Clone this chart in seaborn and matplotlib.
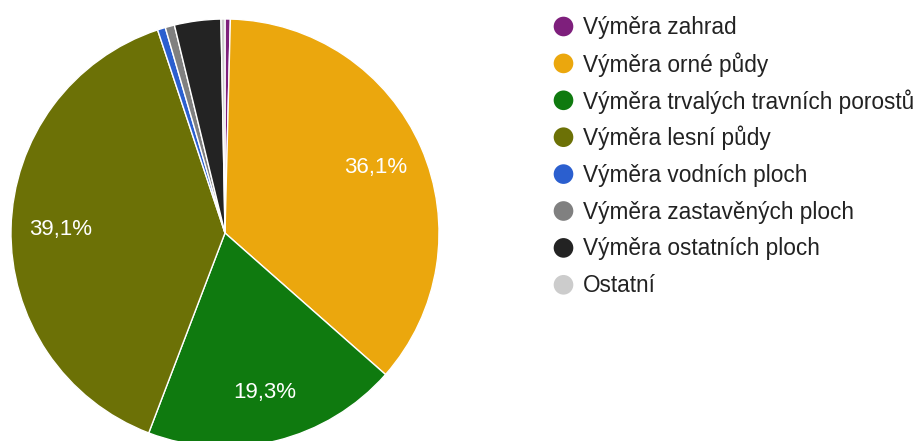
import seaborn as sns
import matplotlib.pyplot as plt

# Struktura pozemků (podíly v %)
labels = ["Výměra zahrad", "Výměra orné půdy", "Výměra trvalých travních porostů",
          "Výměra lesní půdy", "Výměra vodních ploch", "Výměra zastavěných ploch",
          "Výměra ostatních ploch", "Ostatní"]
shares = [0.4, 36.1, 19.3, 39.1, 0.6, 0.7, 3.5, 0.3]
colors = ["#7e1f7c", "#eba70d", "#0f7a0f", "#6c7106", "#2b5fcf", "#808080",
          "#232323", "#cccccc"]

sns.set_theme(style="white")
plt.rcParams["font.family"] = ["Liberation Sans", "DejaVu Sans"]

fig = plt.figure(figsize=(9.17, 4.41), dpi=100)

# pie axes, in pixels: centre (225, 233), radius 214
ax = fig.add_axes([11 / 917, -6 / 441, 428 / 917, 428 / 441])


def pct(p):
    return f"{p:.1f}".replace(".", ",") + "%" if p > 5 else ""


ax.pie(shares, colors=colors, startangle=90, counterclock=False, radius=1,
       autopct=pct, pctdistance=0.77,
       wedgeprops=dict(edgecolor="white", linewidth=1),
       textprops=dict(color="white", fontsize=16))
ax.set_xlim(-1, 1)
ax.set_ylim(-1, 1)
ax.axis("off")

# legend drawn on a pixel-coordinate overlay
lax = fig.add_axes([0, 0, 1, 1])
lax.set_xlim(0, 917)
lax.set_ylim(441, 0)
lax.axis("off")
for i, (lab, col) in enumerate(zip(labels, colors)):
    y = 26.5 + i * 36.9
    lax.scatter(563.5, y, s=200, color=col, edgecolor="none")
    lax.text(583, y + 1, lab, va="center", ha="left", fontsize=16.3, color="#222222")

fig.savefig("out.png", dpi=100)
